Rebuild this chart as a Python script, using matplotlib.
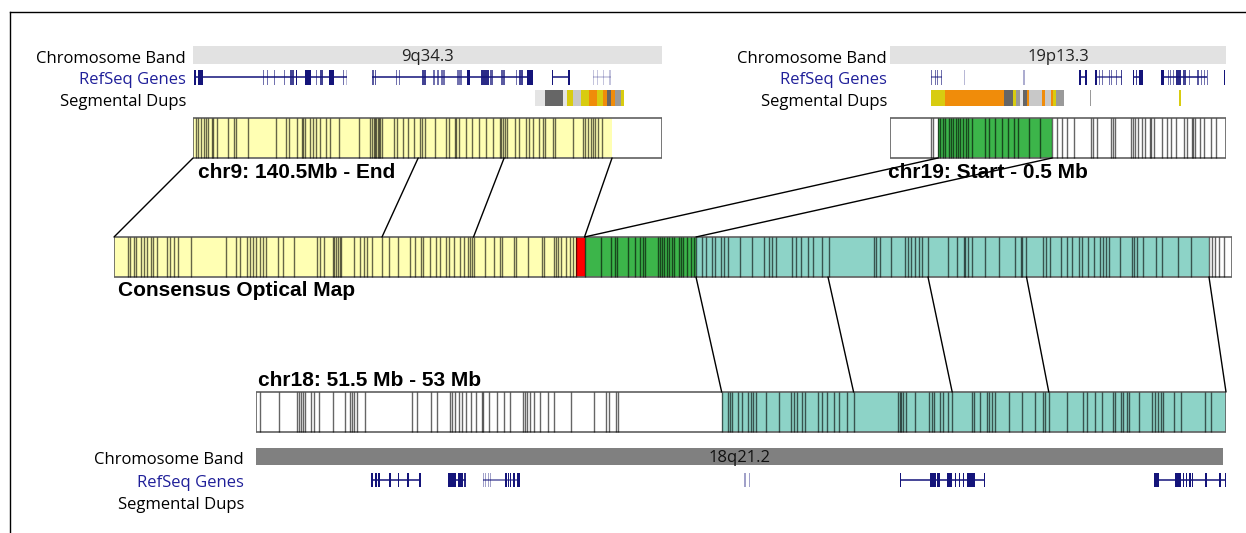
import matplotlib
matplotlib.use("Agg")
import matplotlib.pyplot as plt
from matplotlib.patches import Rectangle, ConnectionPatch
from matplotlib.lines import Line2D

# ---------------- data (positions in kb from the start of each map) ----------------
chr9_length = 704
chr9_sites = [4, 8, 12, 16, 19, 23, 28, 30, 36, 53, 61, 65, 83, 124, 139, 144, 156, 163,
              165, 168, 175, 180, 184, 190, 199, 205, 219, 249, 265, 269, 271, 273, 275,
              277, 279, 281, 284, 301, 306, 315, 323, 331, 340, 343, 348, 363, 380, 385,
              393, 395, 399, 410, 419, 430, 440, 451, 461, 463, 465, 468, 471, 484, 490,
              500, 504, 510, 519, 526, 528, 540, 544, 570, 586, 588, 593, 597, 601, 604,
              608, 614]
chr9_segments = [(0, 629, "yellow")]

chr19_length = 504
chr19_sites = [62, 65, 72, 75, 80, 83, 88, 91, 95, 99, 102, 105, 110, 114, 117, 123, 143,
               148, 157, 168, 177, 186, 192, 208, 225, 243, 250, 258, 265, 276, 301, 304,
               311, 332, 335, 338, 361, 364, 368, 372, 378, 382, 390, 392, 396, 408, 415,
               421, 429, 441, 445, 453, 455, 458, 465, 471, 481, 489]
chr19_segments = [(72, 243, "green")]

chr18_length = 1456
chr18_sites = [6, 35, 62, 65, 68, 71, 74, 82, 87, 94, 115, 133, 141, 144, 147, 151, 164,
               234, 241, 262, 272, 291, 294, 299, 304, 309, 315, 322, 330, 339, 340, 349,
               362, 373, 381, 401, 404, 407, 411, 418, 427, 438, 447, 473, 508, 526, 530,
               541, 544, 699, 709, 711, 715, 724, 729, 738, 743, 746, 750, 765, 785, 803,
               807, 812, 820, 824, 843, 849, 857, 868, 875, 887, 897, 964, 966, 968, 971,
               975, 989, 1010, 1015, 1018, 1026, 1031, 1038, 1045, 1074, 1078, 1086, 1097,
               1100, 1105, 1110, 1130, 1150, 1169, 1182, 1184, 1190, 1217, 1241, 1247,
               1260, 1270, 1287, 1289, 1298, 1302, 1307, 1310, 1325, 1345, 1350, 1354,
               1358, 1361, 1378, 1388, 1424, 1434]
chr18_segments = [(699, 1456, "teal")]

cons_length = 2236
cons_sites = [27, 32, 39, 44, 53, 60, 65, 73, 77, 85, 105, 111, 120, 127, 153, 224, 244,
              251, 265, 271, 277, 284, 291, 297, 303, 327, 337, 360, 405, 412, 420, 437,
              440, 443, 447, 451, 453, 480, 491, 500, 505, 515, 536, 549, 567, 592, 601,
              613, 617, 631, 644, 651, 663, 669, 680, 691, 699, 708, 712, 716, 719, 741,
              759, 772, 776, 800, 803, 827, 855, 860, 880, 884, 888, 893, 903, 911, 917,
              924, 941, 973, 993, 1002, 1005, 1027, 1041, 1052, 1058, 1061, 1088, 1092,
              1095, 1100, 1105, 1110, 1115, 1120, 1129, 1134, 1137, 1146, 1154, 1159, 1164,
              1176, 1183, 1195, 1202, 1214, 1219, 1227, 1251, 1276, 1299, 1310, 1316, 1324,
              1355, 1363, 1373, 1388, 1397, 1416, 1429, 1519, 1524, 1531, 1553, 1582, 1587,
              1594, 1602, 1609, 1616, 1628, 1667, 1685, 1699, 1702, 1708, 1716, 1741, 1770,
              1801, 1813, 1816, 1823, 1857, 1864, 1872, 1894, 1906, 1916, 1930, 1935, 1948,
              1959, 1972, 1977, 1984, 1989, 2011, 2035, 2040, 2045, 2057, 2083, 2096, 2128,
              2154, 2190, 2196, 2201, 2210, 2220]
cons_segments = [(0, 924, "yellow"), (924, 941, "red"), (941, 1164, "green"),
                 (1164, 2190, "teal")]

# alignment anchors: (position on reference map, position on consensus map)
chr9_anchors = [(0, 0), (338, 536), (467, 719), (629, 941)]
chr19_anchors = [(72, 941), (243, 1164)]
chr18_anchors = [(699, 1164), (897, 1428), (1045, 1628), (1190, 1825), (1456, 2190)]

# browser tracks
chr9_band = ("9q34.3", 0, 704, "light")
chr19_band = ("19p13.3", 0, 504, "light")
chr18_band = ("18q21.2", 0, 1452, "dark")

# gene spans (start, end, shade) and exons (start, end, shade)
chr9_genes = [(1, 231, 1.0), (269, 511, 1.0), (539, 566, 1.0), (600, 627, 0.25)]
chr9_exons = [(1, 5, 1.0), (8, 15, 1.0), (105, 107, 0.6), (111, 113, 0.6), (121, 123, 0.6),
              (136, 138, 0.6), (145, 152, 0.8), (154, 156, 1.0), (168, 177, 1.0),
              (184, 186, 0.6), (191, 195, 0.8), (204, 211, 1.0), (225, 227, 0.6),
              (229, 231, 0.3), (269, 271, 0.7), (273, 275, 0.7), (304, 306, 0.6),
              (309, 311, 0.6), (343, 350, 0.8), (361, 363, 0.6), (367, 369, 0.6),
              (373, 379, 0.6), (397, 404, 0.6), (412, 416, 1.0), (433, 444, 0.9),
              (446, 450, 0.7), (462, 468, 0.7), (485, 487, 0.6), (490, 495, 0.8),
              (501, 511, 1.0), (539, 541, 1.0), (563, 566, 1.0), (600, 602, 0.25),
              (606, 608, 0.25), (615, 617, 0.25), (625, 627, 0.25)]

chr19_genes = [(62, 78, 0.6), (284, 294, 1.0), (307, 348, 0.8), (364, 379, 1.0),
               (407, 476, 1.0)]
chr19_exons = [(62, 63.5, 0.6), (67, 68.5, 0.6), (71, 72.5, 0.6), (77, 78.5, 0.6),
               (111, 112.5, 0.3), (199, 203, 0.35), (284, 286, 1.0), (293, 295, 1.0),
               (307, 311, 1.0), (314, 315.5, 0.6), (318, 319.5, 0.6), (328, 329.5, 0.6),
               (332, 333.5, 0.6), (339, 340.5, 0.6), (347, 348.5, 0.8), (364, 366, 1.0),
               (369, 371, 0.8), (374, 379, 1.0), (407, 411, 1.0), (417, 418.5, 0.6),
               (420, 421.5, 0.6), (425, 426.5, 0.6), (429, 436, 0.9), (440, 444, 0.8),
               (448, 449.5, 0.6), (460, 464, 0.7), (467, 468.5, 0.6), (471, 472.5, 0.6),
               (475, 476.5, 0.6), (501, 502.5, 1.0)]

chr18_genes = [(173, 248, 1.0), (288, 315, 1.0), (341, 397, 0.7), (966, 1093, 1.0),
               (1348, 1457, 1.0)]
chr18_exons = [(173, 175, 1.0), (179, 181, 1.0), (183, 186, 1.0), (200, 202, 1.0),
               (213, 215, 1.0), (227, 229, 1.0), (245, 248, 1.0), (288, 300, 1.0),
               (303, 311, 1.0), (312, 315, 0.9), (341, 342.5, 0.4), (344, 345.5, 0.4),
               (348, 349.5, 0.4), (351, 352.5, 0.4), (374, 377, 1.0), (378, 380, 1.0),
               (381, 383, 1.0), (386, 389, 1.0), (392, 397, 1.0), (733, 735, 0.4),
               (740, 742, 0.4), (966, 967.5, 1.0), (1012, 1020, 1.0), (1022, 1027, 1.0),
               (1037, 1044, 1.0), (1049, 1051, 1.0), (1055, 1057, 1.0), (1061, 1063, 1.0),
               (1067, 1079, 1.0), (1092, 1094, 1.0), (1348, 1356, 1.0), (1379, 1388, 1.0),
               (1391, 1393, 1.0), (1396, 1398, 1.0), (1401, 1403, 1.0), (1405, 1407, 1.0),
               (1425, 1427, 1.0), (1446, 1448, 1.0), (1455, 1457, 1.0)]

# segmental duplications (start, end, class)
chr9_dups = [(513, 528, "lt"), (528, 555, "dk"), (555, 562, "lt"), (562, 570, "yl"),
             (570, 583, "lg"), (583, 595, "yl"), (595, 606, "or"), (606, 615, "yl"),
             (615, 621, "or"), (621, 628, "dk"), (628, 633, "or"), (633, 643, "gr"),
             (643, 647, "yl")]
chr19_dups = [(61, 82, "yl"), (82, 171, "or"), (171, 184, "dk"), (184, 189, "yl"),
              (189, 195, "gr"), (195, 200, "lt"), (200, 205, "dk"), (205, 208, "or"),
              (208, 228, "lg"), (228, 233, "or"), (233, 242, "lg"), (242, 245, "or"),
              (245, 249, "yl"), (249, 261, "gr"), (300, 302, "gr"), (434, 436, "yl")]

# ---------------- styles ----------------
fill = {"yellow": "#ffffb3", "red": "#ff0000", "green": "#3cb54a", "teal": "#8dd3c7"}
dup_col = {"yl": "#d8cc10", "or": "#f08c0a", "dk": "#666666", "gr": "#9a9a9a",
           "lg": "#c8c8c8", "lt": "#e4e4e4"}
band_col = {"light": ("#e2e2e2", "#222222"), "dark": ("#808080", "#111111")}
navy = "#14147a"
label_font = "Open Sans"
title_font = "Liberation Sans"

W, H = 1246, 533
fig = plt.figure(figsize=(W / 100, H / 100), dpi=100)


def add_panel(x0, x1, ytop, ybot, length):
    ax = fig.add_axes([x0 / W, 1 - ybot / H, (x1 - x0) / W, (ybot - ytop) / H])
    ax.set_xlim(0, length)
    ax.set_ylim(ybot, ytop)
    ax.axis("off")
    return ax


def ftext(x, y, s, **kw):
    fig.text(x / W, 1 - y / H, s, **kw)


def draw_map(ax, sites, segments, length, ytop, ybot):
    for start, end, name in segments:
        ax.add_patch(Rectangle((start, ytop), end - start, ybot - ytop,
                               fc=fill[name], ec="none"))
    ax.vlines(sites, ytop, ybot, color="black", alpha=0.6, lw=1.0)
    ax.add_patch(Rectangle((0, ytop), length, ybot - ytop, fc="none",
                           ec="#606060", lw=1.2))


def draw_band(ax, band, ytop, ybot):
    name, start, end, kind = band
    bg, fg = band_col[kind]
    ax.add_patch(Rectangle((start, ytop), end - start, ybot - ytop, fc=bg, ec="none"))
    ax.text((start + end) / 2, (ytop + ybot) / 2 + 2, name, ha="center", va="center",
            fontsize=12, color=fg, family=label_font)


def draw_genes(ax, spans, exons, yc, half):
    for start, end, shade in spans:
        ax.plot([start, end], [yc, yc], color=navy, alpha=shade, lw=1.1,
                solid_capstyle="butt")
    for start, end, shade in exons:
        ax.add_patch(Rectangle((start, yc - half), end - start, 2 * half,
                               fc=navy, alpha=shade, ec="none"))


def draw_dups(ax, dups, ytop, ybot):
    for start, end, cls in dups:
        ax.add_patch(Rectangle((start, ytop), end - start, ybot - ytop,
                               fc=dup_col[cls], ec="none"))


def track_labels(xr, ys, size=12):
    for y, s, c in zip(ys, ["Chromosome Band", "RefSeq Genes", "Segmental Dups"],
                       ["black", "#1f1f99", "black"]):
        ftext(xr, y, s, ha="right", va="center", fontsize=size, color=c, family=label_font)


def connect(axA, xA, yA, axB, xB, yB):
    con = ConnectionPatch(xyA=(xA, yA), coordsA=axA.transData,
                          xyB=(xB, yB), coordsB=axB.transData,
                          color="black", lw=1.0, zorder=5)
    fig.add_artist(con)


# outer frame (top and left edges)
fig.add_artist(Line2D([10 / W, 1], [1 - 12 / H, 1 - 12 / H], color="black", lw=1))
fig.add_artist(Line2D([10 / W, 10 / W], [1 - 12 / H, 0], color="black", lw=1))

# chr9 panel
ax9 = add_panel(193, 662, 40, 160, chr9_length)
draw_band(ax9, chr9_band, 46, 64)
draw_genes(ax9, chr9_genes, chr9_exons, 77, 7.5)
draw_dups(ax9, chr9_dups, 90, 106)
draw_map(ax9, chr9_sites, chr9_segments, chr9_length, 118, 158)
track_labels(186, [59, 80, 102])
ftext(198, 173, "chr9: 140.5Mb - End", ha="left", va="center", fontsize=15,
      fontweight="bold", family=title_font)

# chr19 panel
ax19 = add_panel(890, 1226, 40, 160, chr19_length)
draw_band(ax19, chr19_band, 46, 64)
draw_genes(ax19, chr19_genes, chr19_exons, 77, 7.5)
draw_dups(ax19, chr19_dups, 90, 106)
draw_map(ax19, chr19_sites, chr19_segments, chr19_length, 118, 158)
track_labels(887, [59, 80, 102])
ftext(888, 173, "chr19: Start - 0.5 Mb", ha="left", va="center", fontsize=15,
      fontweight="bold", family=title_font)

# consensus optical map
axc = add_panel(114, 1232, 232, 282, cons_length)
draw_map(axc, cons_sites, cons_segments, cons_length, 237, 277)
ftext(118, 290, "Consensus Optical Map", ha="left", va="center", fontsize=15,
      fontweight="bold", family=title_font)

# chr18 panel
ax18 = add_panel(256, 1226, 388, 510, chr18_length)
draw_map(ax18, chr18_sites, chr18_segments, chr18_length, 392, 432)
draw_band(ax18, chr18_band, 448, 465)
draw_genes(ax18, chr18_genes, chr18_exons, 480, 7)
track_labels(244, [460, 483, 505])
ftext(258, 381, "chr18: 51.5 Mb - 53 Mb", ha="left", va="center", fontsize=15,
      fontweight="bold", family=title_font)

# alignment lines
for a, c in chr9_anchors:
    connect(ax9, a, 158, axc, c, 237)
for a, c in chr19_anchors:
    connect(ax19, a, 158, axc, c, 237)
for a, c in chr18_anchors:
    connect(axc, c, 277, ax18, a, 392)

fig.savefig("out.png", dpi=100)
